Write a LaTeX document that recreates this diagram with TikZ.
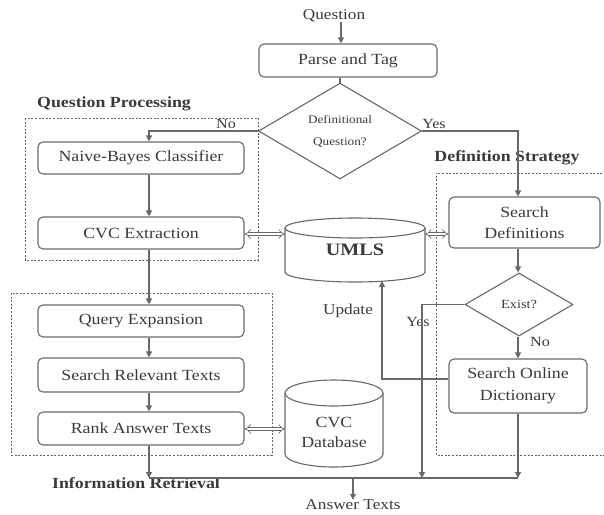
\documentclass[tikz,border=0pt]{standalone}
\usepackage{fontspec}
\setmainfont{Liberation Serif}[FakeStretch=1.15]
\usetikzlibrary{shapes.geometric,arrows.meta,calc}
\definecolor{ln}{HTML}{686868}
\definecolor{tx}{HTML}{3A3A3A}
\begin{document}
\begin{tikzpicture}[x=1pt,y=-1pt,
  every node/.style={text=tx},
  box/.style={draw=ln,line width=1.1pt,rounded corners=5pt,inner sep=0pt,align=center,font=\fontsize{15.5}{21.5}\selectfont},
  dec/.style={draw=ln,line width=1.1pt,diamond,inner sep=0pt,align=center},
  lbl/.style={font=\fontsize{15}{18}\selectfont,inner sep=0pt},
  ttl/.style={font=\bfseries\fontsize{15.5}{18}\selectfont,inner sep=0pt},
  conn/.style={draw=ln,line width=1.2pt},
  arr/.style={conn,-{Triangle[width=6pt,length=6pt]}},
  dbl/.style={draw=ln,line width=0.7pt,double,double distance=2.6pt,{Implies}-{Implies}},
  grp/.style={draw=ln,line width=0.8pt,dash pattern=on 2pt off 1.6pt},
  cyl/.style={draw=ln,line width=1.1pt}]
\useasboundingbox (0,0) rectangle (604,514);

% group frames
\draw[grp] (25,118) rectangle (258,260);
\draw[grp] (11,293) rectangle (272,455);
\draw[grp] (606,173) -- (436,173) -- (436,455) -- (606,455);

% cylinders
\draw[cyl] (285,228) -- (285,272) arc[start angle=180,end angle=360,x radius=70pt,y radius=10pt] -- (425,228);
\draw[cyl] (355,228) ellipse[x radius=70pt,y radius=10pt];
\draw[cyl] (285,393) -- (285,454) arc[start angle=180,end angle=360,x radius=49pt,y radius=13pt] -- (383,393);
\draw[cyl] (334,393) ellipse[x radius=49pt,y radius=13pt];

% nodes
\node[lbl] (q) at (334,16) {Question};
\node[box,minimum width=178pt,minimum height=33pt] (parse) at (348,60.5) {Parse and Tag};
\node[dec,minimum width=163pt,minimum height=86pt,font=\fontsize{11.5}{22}\selectfont] (dq) at (340,131) {Definitional\\Question?};
\node[box,minimum width=206pt,minimum height=32pt] (naive) at (141,158) {Naive-Bayes Classifier};
\node[box,minimum width=206pt,minimum height=32pt] (cvc) at (141,233) {CVC Extraction};
\node[box,minimum width=206pt,minimum height=32pt] (qe) at (141,321) {Query Expansion};
\node[box,minimum width=206pt,minimum height=34pt] (srt) at (141,375) {Search Relevant Texts};
\node[box,minimum width=206pt,minimum height=33pt] (rank) at (141,428.5) {Rank Answer Texts};
\node[inner sep=0pt,minimum width=140pt,minimum height=64pt,font=\bfseries\fontsize{17.5}{20}\selectfont] (umls) at (355,250) {UMLS};
\node[inner sep=0pt,minimum width=98pt,minimum height=40pt,align=center,font=\fontsize{15.5}{20}\selectfont] (cvcdb) at (334,432) {CVC\\Database};
\node[box,minimum width=151pt,minimum height=51pt] (sdef) at (524.5,222.5) {Search\\Definitions};
\node[dec,minimum width=108pt,minimum height=63pt,font=\fontsize{12.5}{15}\selectfont] (ex) at (519,304.5) {Exist?};
\node[box,minimum width=138pt,minimum height=54pt] (sonl) at (518,386) {Search Online\\Dictionary};
\node[lbl] (ans) at (353,505) {Answer Texts};

% labels
\node[ttl] (tqp) at (114,104) {Question Processing};
\node[ttl] (tds) at (507,158) {Definition Strategy};
\node[ttl] (tir) at (136,483) {Information Retrieval};
\node[lbl,font=\fontsize{14}{16}\selectfont] (lno1) at (226,124) {No};
\node[lbl,font=\fontsize{14}{16}\selectfont] (lyes1) at (434,124) {Yes};
\node[lbl,font=\fontsize{14}{16}\selectfont] (lno2) at (540,342) {No};
\node[lbl,font=\fontsize{14}{16}\selectfont] (lyes2) at (418,322) {Yes};
\node[lbl] (lupd) at (348,311) {Update};

% reference coordinates
\coordinate (colL) at (149,0);
\coordinate (colR) at (518,0);
\coordinate (colY) at (422,0);
\coordinate (colA) at (353,0);
\coordinate (colQ) at (341,0);
\coordinate (bot) at (0,478);
\coordinate (updY) at (0,379);
\coordinate (umlsB) at (382,281);
\coordinate (dy1) at (0,234);
\coordinate (dy2) at (0,429);

% connectors
\draw[arr] (colQ |- q.south) -- (colQ |- parse.north);
\draw[conn] (dq.north |- parse.south) -- (dq.north);
\draw[arr] (dq.west) -| (colL |- naive.north);
\draw[arr] (dq.east) -| (colR |- sdef.north);
\draw[arr] (colL |- naive.south) -- (colL |- cvc.north);
\draw[arr] (colL |- cvc.south) -- (colL |- qe.north);
\draw[arr] (colL |- qe.south) -- (colL |- srt.north);
\draw[arr] (colL |- srt.south) -- (colL |- rank.north);
\draw[arr] (colL |- rank.south) -- (colL |- bot);
\draw[arr] (colR |- sdef.south) -- (colR |- ex.north);
\draw[arr] (colR |- ex.south) -- (colR |- sonl.north);
\draw[arr] (colR |- sonl.south) -- (colR |- bot);
\draw[arr] (ex.west) -| (colY |- bot);
\draw[arr] (sonl.west |- updY) -| (umlsB);
\draw[conn] (colL |- bot) -- (colR |- bot);
\draw[arr] (colA |- bot) -- (ans.north);
\draw[dbl] (cvc.east |- dy1) -- (umls.west |- dy1);
\draw[dbl] (umls.east |- dy1) -- (sdef.west |- dy1);
\draw[dbl] (rank.east |- dy2) -- (cvcdb.west |- dy2);
\end{tikzpicture}
\end{document}
